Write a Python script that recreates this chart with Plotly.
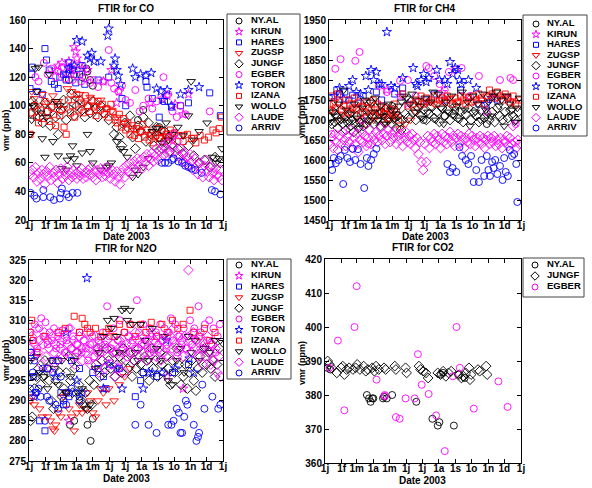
import plotly.graph_objects as go

W, H = 592, 488
FONT = "Liberation Sans"

# ---------------- axis ticks ----------------
MONTH_DAYS = [0, 31, 59, 90, 120, 151, 181, 212, 243, 273, 304, 334, 365]
MONTH_LABELS = ["1j", "1f", "1m", "1a", "1m", "1j", "1j", "1a", "1s", "1o", "1n", "1d", "1j"]

STATIONS = ["NY.AL", "KIRUN", "HARES", "ZUGSP", "JUNGF", "EGBER", "TORON", "IZANA", "WOLLO", "LAUDE", "ARRIV"]
CO2_STATIONS = ["NY.AL", "JUNGF", "EGBER"]

# ---------------- CO (ppb): (day of 2003, vmr) ----------------
CO_NYAL = [(75,118),(85,122),(100,120),(108,126),(110,124),(115,118),(120,114),(205,90),(215,97),(245,85),(250,83)]
CO_KIRUN = [(50,125),(55,128),(62,130),(75,131),(78,127),(80,125),(85,141),(88,138),(90,133),(95,129),(100,126),
            (110,125),(140,117),(155,125),(165,102),(170,110),(228,102),(250,105),(260,107),(275,101),(290,94),(300,108)]
CO_HARES = [(2,112),(5,122),(6,127),(15,110),(25,108),(30,140),(33,132),(38,125),(42,117),(48,115),(55,112),(58,120),
            (65,122),(70,118),(75,130),(82,125),(88,116),(95,122),(100,128),(105,115),(130,118),(150,120),(175,105),
            (182,100),(220,117),(222,113),(232,105),(245,92),(255,103),(268,99),(285,100),(300,102),(340,109),(360,93)]
CO_ZUGSP = [(3,80),(5,110),(10,105),(18,100),(25,108),(35,102),(45,107),(55,103),(65,98),(72,112),(80,110),(88,105),
            (95,108),(105,102),(115,106),(125,100),(135,104),(145,98),(155,96),(165,92),(180,88),(195,84),(210,82),
            (225,80),(240,78),(255,79),(270,81),(290,80),(310,78)]
CO_JUNGF = [(3,95),(6,103),(10,100),(14,97),(20,92),(26,88),(30,102),(35,96),(40,86),(45,100),(50,92),(55,80),(60,97),
            (65,104),(70,90),(75,98),(80,108),(85,93),(90,100),(95,104),(100,97),(105,92),(110,99),(115,95),(120,103),
            (125,98),(130,92),(135,100),(140,95),(150,90),(160,80),(165,85),(170,78),(175,72),(180,88),(185,85),(190,93),
            (195,78),(200,70),(205,86),(210,82),(215,92),(220,75),(225,88),(230,80),(235,72),(240,85),(245,78),(250,70),
            (255,82),(260,76),(265,68),(270,73),(280,70),(290,66),(300,72),(310,65),(320,60),(330,62),(340,57),(350,64),(360,60)]
CO_EGBER = [(12,120),(18,117),(28,130),(35,122),(42,126),(50,120),(55,124),(62,127),(68,119),(75,123),(82,118),(90,121),
            (98,117),(106,119),(115,116),(122,118),(130,113),(140,117),(150,139),(155,116),(160,112),(168,110),(175,114),
            (182,104),(190,102),(200,111),(208,96),(215,100),(225,105),(232,98),(240,103),(253,120),(262,108),(270,96),
            (278,92),(285,100),(295,94),(340,96)]
CO_TORON = [(70,122),(75,126),(85,128),(90,146),(100,145),(110,135),(115,133),(118,137),(122,131),(135,131),(148,149),
            (150,154),(160,128),(162,133),(165,125),(168,121),(172,115),(195,126),(200,120),(210,122),(220,121),(230,123),
            (240,112),(248,110),(252,104),(260,111),(268,100),(285,108),(300,111),(320,113)]
CO_IZANA = [(2,80),(6,95),(10,100),(14,92),(18,88),(22,97),(26,91),(30,103),(34,96),(38,89),(42,99),(46,94),(50,86),
            (54,101),(58,93),(62,97),(66,85),(70,80),(74,104),(78,95),(82,100),(86,92),(90,108),(94,97),(98,102),(102,95),
            (106,107),(110,100),(114,96),(118,104),(122,99),(126,93),(130,103),(134,97),(138,101),(142,94),(146,98),
            (150,92),(154,101),(158,96),(162,90),(166,88),(170,94),(174,85),(178,91),(182,83),(186,88),(190,80),(194,86),
            (198,79),(202,84),(206,77),(210,82),(214,87),(218,78),(222,83),(226,76),(230,81),(234,74),(238,79),(242,84),
            (246,77),(250,82),(254,75),(258,80),(262,78),(266,83),(270,76),(274,81),(282,79),(290,75),(298,80),(306,77),
            (314,74),(322,79),(330,76),(338,78),(346,83),(352,81),(358,84),(362,92)]
CO_WOLLO = [(2,80),(5,90),(8,100),(12,126),(15,110),(18,127),(22,95),(25,77),(30,64),(33,92),(38,122),(45,75),(50,103),
            (55,65),(58,100),(62,56),(70,55),(72,62),(78,65),(82,72),(85,63),(90,58),(100,67),(110,80),(115,68),(120,60),
            (135,55),(145,57),(150,58),(155,60),(165,75),(172,70),(178,68),(185,64),(195,50),(200,55),(205,52),(215,57),
            (225,63),(232,82),(240,84),(250,74),(258,88),(262,76),(270,80),(280,85),(290,79),(300,93),(305,117),(310,76),
            (320,82),(335,88),(345,64),(352,60),(358,63),(363,70)]
CO_LAUDE = [(2,52),(6,55),(9,50),(12,57),(15,47),(18,53),(21,49),(24,55),(27,52),(30,45),(33,54),(36,51),(39,57),(42,48),
            (45,53),(48,50),(51,55),(54,46),(57,52),(60,56),(63,49),(66,54),(69,51),(72,57),(75,48),(78,53),(81,50),(84,55),
            (87,52),(90,49),(93,54),(96,51),(99,56),(102,49),(105,53),(108,50),(111,55),(114,52),(117,57),(120,50),(123,54),
            (126,48),(129,55),(132,52),(135,56),(138,50),(141,54),(144,51),(147,57),(150,53),(153,49),(156,55),(159,52),
            (162,47),(165,54),(168,50),(171,45),(174,53),(177,56),(180,50),(183,58),(186,54),(189,60),(192,52),(195,57),
            (198,61),(201,55),(204,63),(207,58),(210,62),(213,56),(216,64),(219,60),(222,66),(225,58),(228,63),(231,67),
            (234,61),(237,65),(240,70),(243,62),(246,68),(249,64),(252,72),(255,66),(258,70),(261,74),(264,67),(267,78),
            (270,71),(273,80),(276,68),(279,75),(282,65),(285,70),(288,62),(291,67),(294,60),(297,64),(300,58),(303,66),
            (306,61),(309,55),(312,63),(315,58),(318,52),(321,60),(324,56),(327,50),(330,58),(333,62),(336,54),(339,50),
            (342,57),(345,53),(348,48),(351,56),(354,52),(357,50),(360,55),(363,48)]
CO_ARRIV = [(3,39),(10,37),(14,35),(27,36),(27,41),(40,36),(47,34),(58,35),(60,39),(62,42),(71,38),(75,36),(82,39),(91,39),
            (250,60),(256,60),(262,60),(269,62),(272,63),(281,61),(288,60),(294,58),(300,57),(306,56),(313,55),(325,53),
            (344,41),(350,40),(360,38)]

# ---------------- CH4 (ppb) ----------------
CH4_NYAL = [(100,1720),(120,1735),(180,1700),(220,1710),(240,1725),(300,1690)]
CH4_KIRUN = [(110,1775),(135,1760),(150,1740),(215,1770)]
CH4_HARES = [(5,1755),(15,1775),(20,1765),(30,1770),(38,1750),(45,1762),(55,1742),(65,1760),(90,1770),(100,1750),
             (125,1765),(140,1780),(185,1750),(200,1765),(220,1750),(250,1775),(285,1740),(320,1750),(340,1755)]
CH4_ZUGSP = [(3,1725),(10,1745),(18,1700),(25,1715),(32,1705),(40,1720),(48,1730),(55,1700),(62,1735),(70,1690),(78,1710),
             (85,1700),(95,1720),(105,1690),(115,1700),(125,1710),(135,1680),(145,1690),(155,1700),(165,1720),(175,1735),
             (185,1745),(200,1740),(215,1750),(230,1755),(245,1745),(260,1760),(275,1745),(290,1750),(305,1760),(320,1755),
             (335,1760),(350,1745)]
CH4_JUNGF = [(2,1705),(5,1690),(8,1720),(11,1695),(14,1710),(17,1680),(20,1700),(23,1725),(26,1690),(29,1705),(32,1675),
             (35,1695),(38,1715),(41,1685),(44,1700),(47,1670),(50,1690),(53,1710),(56,1680),(59,1695),(62,1720),(65,1685),
             (68,1705),(71,1690),(74,1725),(77,1700),(80,1745),(83,1710),(86,1690),(89,1730),(92,1700),(95,1715),(98,1685),
             (101,1720),(104,1695),(107,1710),(110,1730),(113,1700),(116,1715),(119,1690),(122,1725),(125,1705),(128,1680),
             (131,1710),(134,1695),(137,1675),(140,1700),(145,1715),(150,1705),(155,1745),(160,1720),(165,1700),(170,1730),
             (175,1710),(180,1725),(185,1700),(190,1715),(195,1735),(200,1705),(205,1720),(210,1695),(215,1730),(220,1710),
             (225,1725),(230,1700),(235,1715),(240,1735),(245,1705),(250,1720),(255,1695),(260,1715),(265,1730),(270,1700),
             (275,1720),(280,1710),(285,1695),(290,1725),(295,1705),(300,1715),(305,1700),(310,1720),(315,1695),(320,1730),
             (325,1710),(330,1700),(335,1720),(340,1705),(345,1725),(350,1710),(355,1700),(360,1720)]
CH4_EGBER = [(5,1665),(12,1828),(22,1852),(50,1848),(58,1870),(63,1700),(75,1640),(95,1785),(110,1770),(135,1798),
             (150,1800),(165,1760),(185,1835),(190,1830),(200,1810),(210,1790),(220,1775),(228,1820),(240,1825),(252,1830),
             (268,1760),(285,1810),(300,1720),(325,1800),(345,1805),(350,1800),(355,1690)]
CH4_TORON = [(10,1760),(20,1780),(28,1752),(38,1785),(45,1800),(52,1770),(60,1765),(70,1810),(75,1775),(80,1825),(85,1800),
             (90,1820),(95,1790),(100,1790),(110,1920),(118,1785),(125,1780),(140,1805),(160,1830),(165,1790),(168,1785),
             (175,1800),(180,1815),(185,1795),(190,1805),(205,1825),(210,1800),(220,1800),(225,1790),(230,1845),(235,1815),
             (240,1830),(245,1825),(248,1800),(252,1790),(265,1800),(280,1780),(300,1740),(310,1755)]
CH4_IZANA = [(2,1725),(5,1760),(8,1740),(12,1730),(16,1765),(20,1745),(24,1725),(28,1735),(32,1750),(36,1720),(40,1740),
             (44,1730),(48,1755),(52,1725),(56,1745),(60,1715),(64,1735),(68,1720),(72,1745),(76,1730),(80,1725),(84,1750),
             (88,1710),(92,1740),(96,1720),(100,1735),(104,1715),(108,1730),(112,1705),(116,1725),(120,1715),(124,1740),
             (128,1720),(132,1700),(140,1765),(150,1735),(160,1740),(165,1750),(170,1745),(175,1760),(180,1740),(185,1755),
             (190,1745),(195,1750),(200,1760),(205,1740),(210,1750),(215,1755),(220,1745),(225,1760),(230,1750),(235,1740),
             (240,1755),(245,1745),(250,1760),(255,1750),(260,1740),(265,1755),(270,1745),(275,1760),(280,1750),(285,1765),
             (290,1755),(295,1740),(300,1760),(305,1775),(310,1765),(315,1755),(320,1770),(325,1760),(330,1750),(335,1765),
             (340,1755),(345,1745),(350,1760),(355,1740),(360,1750)]
CH4_WOLLO = [(3,1695),(8,1720),(13,1710),(18,1740),(23,1700),(28,1775),(33,1725),(38,1695),(43,1715),(48,1740),(53,1705),
             (58,1680),(63,1730),(68,1750),(73,1700),(78,1745),(83,1720),(88,1755),(93,1700),(98,1735),(103,1710),(108,1690),
             (113,1740),(118,1725),(123,1700),(128,1715),(133,1735),(138,1745),(143,1760),(148,1755),(153,1740),(158,1765),
             (163,1720),(168,1750),(173,1735),(178,1705),(183,1755),(188,1720),(193,1745),(198,1770),(203,1700),(208,1765),
             (213,1730),(218,1690),(223,1745),(228,1720),(233,1760),(238,1710),(243,1735),(248,1700),(253,1770),(258,1725),
             (263,1745),(268,1685),(273,1760),(278,1720),(283,1740),(288,1700),(293,1765),(298,1725),(303,1745),(308,1710),
             (313,1760),(318,1770),(323,1735),(328,1750),(333,1685),(338,1760),(343,1740),(348,1725),(353,1695),(358,1730),(362,1755)]
CH4_LAUDE = [(2,1640),(5,1655),(8,1630),(11,1665),(14,1645),(17,1625),(20,1660),(23,1640),(26,1670),(29,1650),(32,1635),
             (35,1660),(38,1645),(41,1675),(44,1630),(47,1655),(50,1640),(53,1665),(56,1620),(59,1650),(62,1670),(65,1645),
             (68,1660),(71,1635),(74,1655),(77,1675),(80,1640),(83,1660),(86,1650),(89,1670),(92,1645),(95,1660),(98,1680),
             (101,1650),(104,1665),(107,1640),(110,1660),(113,1675),(116,1645),(119,1665),(122,1655),(125,1670),(128,1640),
             (131,1660),(134,1650),(137,1665),(140,1635),(143,1655),(146,1670),(149,1645),(152,1660),(155,1640),(158,1665),
             (161,1650),(164,1630),(167,1655),(170,1615),(173,1645),(176,1595),(179,1575),(182,1640),(185,1595),(188,1660),
             (191,1630),(194,1655),(197,1645),(200,1665),(203,1640),(206,1660),(209,1650),(212,1630),(215,1665),(218,1645),
             (221,1660),(224,1640),(227,1655),(230,1670),(233,1645),(236,1660),(239,1635),(242,1655),(245,1665),(248,1640),
             (251,1660),(254,1650),(257,1630),(260,1655),(263,1645),(266,1665),(269,1640),(272,1660),(275,1650),(278,1635),
             (281,1655),(284,1645),(287,1660),(290,1640),(293,1655),(296,1630),(299,1650),(302,1660),(305,1640),(308,1655),
             (311,1645),(314,1660),(317,1635),(320,1650),(323,1640),(326,1655),(329,1630),(332,1650),(335,1645),(338,1660),
             (341,1635),(344,1655),(347,1640),(350,1685),(353,1645),(356,1630),(359,1650),(362,1640)]
CH4_ARRIV = [(3,1590),(6,1575),(9,1605),(13,1592),(18,1600),(22,1610),(27,1540),(30,1625),(35,1605),(40,1595),(45,1628),
             (50,1600),(55,1627),(60,1590),(67,1530),(72,1605),(75,1585),(80,1600),(85,1615),(90,1628),(225,1590),(230,1570),
             (235,1580),(242,1570),(248,1632),(253,1610),(260,1600),(265,1590),(270,1610),(275,1545),(280,1575),(285,1545),
             (290,1600),(295,1560),(300,1610),(303,1575),(306,1560),(310,1595),(313,1580),(316,1600),(320,1565),(325,1585),
             (330,1550),(333,1605),(336,1570),(340,1560),(344,1625),(348,1610),(352,1615),(356,1590),(358,1495)]

# ---------------- N2O (ppb) ----------------
N2O_NYAL = [(70,292),(77,284),(85,285),(95,291),(110,284),(116,280),(120,285.5)]
N2O_KIRUN = [(75,285),(260,296),(290,293)]
N2O_HARES = [(3,302),(8,296),(12,292),(20,285),(30,282.5),(35,298),(45,300),(55,300),(60,292),(65,289),(75,291),(80,300),
             (95,298),(120,297),(130,298),(140,296),(145,293),(170,298),(200,291),(210,295),(215,297),(240,296),(270,297),(300,299)]
N2O_ZUGSP = [(3,290),(6,291),(10,289),(20,288),(25,286),(35,286),(40,285),(45,283),(48,282.5),(50,284),(55,287),(60,286),
             (65,291),(70,292),(75,288),(80,286),(85,282.5),(90,287),(95,289),(100,287),(105,288),(110,292),(115,290),(120,287),
             (125,286),(130,290),(135,293),(140,292),(145,289),(150,293),(160,290),(170,294),(180,296),(190,298)]
N2O_JUNGF = [(3,285),(6,286),(10,293),(14,296),(18,298),(22,294),(26,296),(30,300),(34,298),(38,295),(42,290),(46,288),
             (50,295),(54,300),(58,297),(62,291),(66,293),(70,297),(74,301),(78,295),(82,292),(86,298),(90,302),(94,294),
             (98,290),(102,289),(106,292),(110,288),(114,295),(118,289),(122,294),(126,299),(130,303),(134,296),(138,300),
             (142,297),(146,303),(150,300),(154,298),(158,302),(162,296),(166,299),(170,301),(174,297),(178,303),(182,300),
             (186,298),(190,302),(194,296),(198,300),(202,298),(206,303),(210,299),(214,297),(218,301),(222,300),(226,295),
             (230,303),(234,298),(238,300),(242,296),(246,302),(250,299),(254,297),(258,301),(262,298),(266,294),(270,300),
             (274,297),(278,303),(282,299),(286,294),(290,296),(294,299),(298,293),(302,297),(306,300),(310,295),(314,292.5),
             (318,298),(322,301),(326,297),(330,303),(334,299),(338,302),(342,298),(346,300),(350,296),(354,299),(358,303)]
N2O_EGBER = [(3,307),(7,305),(11,309),(15,303),(19,308),(23,310.5),(27,306),(31,309.5),(35,304),(39,307),(43,305),(47,308),
             (51,303),(55,306),(59,304),(63,307.5),(67,302),(71,305),(75,308),(79,303),(83,306),(87,301),(91,304),(95,307),
             (99,302),(103,305),(107,303),(111,300),(115,304),(119,306),(123,301),(127,303),(131,305),(135,302),(139,307),
             (143,304),(147,313.5),(151,306),(155,303),(159,308),(163,302),(167,305),(171,310),(175,304),(179,307),(183,302),
             (187,306),(191,309),(195,305),(199,303),(203,315),(207,307),(211,304),(215,309),(219,305),(223,303),(227,308),
             (231,306),(235,302),(239,307),(243,304),(247,309),(251,305),(255,308),(259,303),(263,307),(267,310.5),(271,305),
             (275,309),(279,302),(283,306),(287,304),(291,308),(295,303),(299,306),(303,310),(307,304),(311,308),(315,305),
             (319,313.5),(323,307),(327,303),(331,309),(335,305),(339,310),(343,304),(347,308),(351,302),(355,306),(359,309)]
N2O_TORON = [(10,291),(50,296),(70,307),(90,295),(100,292),(109,320.5),(140,293),(150,299),(165,298),(175,293),(215,293),
             (225,297),(232,297),(250,297),(258,305),(275,298),(302,300.5),(310,297)]
N2O_IZANA = [(2,307),(5,310),(8,305),(15,302),(30,306),(55,307),(68,308),(85,311),(95,307),(100,310.5),(105,309),(110,308),
             (115,307),(125,308),(135,306),(145,307),(150,308),(160,306),(170,309),(180,307),(190,309),(200,306),(210,309),
             (220,307),(230,309.5),(240,306),(250,309),(260,307),(270,310),(280,308),(290,309),(303,312.5),(310,307),
             (320,306),(330,308),(340,305),(350,307)]
N2O_WOLLO = [(3,300),(8,296),(14,301),(20,297),(28,296),(35,293),(42,300),(48,298),(55,294),(62,300),(70,292),(78,296),
             (85,300),(92,292),(100,293),(108,288),(115,289),(125,298),(132,302),(140,306),(148,310),(155,308),(160,310.5),
             (165,306),(170,302),(175,312.5),(180,313),(185,310),(190,312.5),(195,309),(200,302),(205,300),(210,309),
             (218,305),(225,300),(232,308),(240,303),(248,300),(255,306),(262,295),(270,294),(278,300),(285,303),(292,297),
             (300,306),(305,302),(312,305),(320,300),(330,303),(340,302),(350,305),(360,305)]
N2O_LAUDE = [(2,303),(5,306),(8,301),(11,304),(14,308),(17,302),(20,305),(23,299),(26,304),(29,307),(32,301),(35,305),
             (38,303),(41,298),(44,306),(47,302),(50,304),(53,300),(56,307),(59,303),(62,305),(65,301),(68,306),(71,302),
             (74,304),(77,308),(80,303),(83,305),(86,299),(89,304),(92,302),(95,306),(98,303),(101,300),(104,305),(107,302),
             (110,307),(113,303),(116,299),(119,304),(122,301),(125,306),(128,302),(131,297),(134,304),(137,300),(140,303),
             (143,298),(146,305),(149,301),(152,303),(155,299),(158,304),(161,296),(164,302),(167,298),(170,305),(173,300),
             (176,303),(179,297),(182,304),(185,301),(188,306),(191,302),(194,304),(197,300),(200,307),(203,303),(206,305),
             (209,301),(212,306),(215,302),(218,304),(221,300),(224,305),(227,302),(230,307),(233,303),(236,305),(239,301),
             (242,306),(245,303),(248,300),(251,305),(254,302),(257,306),(260,304),(263,301),(266,306),(269,303),(272,308),
             (275,304),(278,301),(281,306),(284,303),(287,305),(290,301),(293,306),(296,303),(300,322.5),(303,305),(306,302),
             (309,307),(312,303),(315,305),(318,301),(321,306),(324,303),(327,299),(330,304),(333,301),(336,306),(339,302),
             (342,299),(345,304),(348,300),(351,303),(354,297),(357,301),(360,296)]
N2O_ARRIV = [(2,293),(4,302),(7,297),(10,300),(14,292),(18,293),(22,291),(26,298),(30,285),(34,291),(38,290),(45,297),
             (50,289),(55,288),(60,296),(65,290),(70,289),(75,292),(80,293),(88,292),(95,290),(200,284),(210,289),(225,284),
             (240,282),(262,284),(268,284),(272,285),(278,288),(282,287),(285,282),(288,282),(292,286),(295,290),(298,289),
             (310,284),(315,280),(318,281),(320,282),(326,294),(330,288),(345,291),(356,288),(360,289)]

# ---------------- CO2 (ppm) ----------------
CO2_NYAL = [(4,388),(10,387.5),(78,380),(82,379),(85,378),(88,379),(90,379),(108,379),(110,379.5),(115,379),(125,380),
            (170,378),(200,373),(210,371),(213,372),(216,386),(220,386.5),(240,371),(248,386),(260,385)]
CO2_JUNGF = [(5,390),(8,389),(12,388),(22,386.5),(30,388),(33,388.5),(36,386),(40,387.5),(45,388),(52,387.5),(57,388),
             (60,389),(65,387.5),(72,388.5),(76,387),(80,387.5),(88,388),(92,387),(95,388.5),(100,387.5),(110,388),
             (113,387.5),(130,388.5),(132,387.5),(150,388),(152,386.5),(175,388.5),(178,387.5),(183,387),(188,386.5),
             (192,385),(210,386.5),(215,386),(220,387),(225,385.5),(230,386.5),(235,387),(250,386),(254,385),(258,385.5),
             (262,386.5),(268,388),(270,384.5),(272,386),(285,387.5),(288,387),(300,388.5),(302,386)]
CO2_EGBER = [(8,388),(24,396),(36,375.5),(55,400),(59,412),(96,384.5),(111,380),(112,379.7),(132,373.5),(139,373),
             (150,379),(167,379),(173,392),(180,383),(193,380.3),(207,374),(223,363.5),(238,385.5),(245,400),(251,388),
             (277,376),(323,384),(340,376.5)]

CO_DATA = dict(zip(STATIONS, [CO_NYAL, CO_KIRUN, CO_HARES, CO_ZUGSP, CO_JUNGF, CO_EGBER, CO_TORON, CO_IZANA, CO_WOLLO, CO_LAUDE, CO_ARRIV]))
CH4_DATA = dict(zip(STATIONS, [CH4_NYAL, CH4_KIRUN, CH4_HARES, CH4_ZUGSP, CH4_JUNGF, CH4_EGBER, CH4_TORON, CH4_IZANA, CH4_WOLLO, CH4_LAUDE, CH4_ARRIV]))
N2O_DATA = dict(zip(STATIONS, [N2O_NYAL, N2O_KIRUN, N2O_HARES, N2O_ZUGSP, N2O_JUNGF, N2O_EGBER, N2O_TORON, N2O_IZANA, N2O_WOLLO, N2O_LAUDE, N2O_ARRIV]))
CO2_DATA = dict(zip(CO2_STATIONS, [CO2_NYAL, CO2_JUNGF, CO2_EGBER]))

# ---------------- styles ----------------
MAG, BLU, RED, BLK = "#FF00FF", "#0000FF", "#FF0000", "#000000"
STYLE = {
    "NY.AL": ("circle-open", BLK), "KIRUN": ("star-open", MAG), "HARES": ("square-open", BLU),
    "ZUGSP": ("triangle-down-open", RED), "JUNGF": ("diamond-open", BLK), "EGBER": ("circle-open", MAG),
    "TORON": ("star-open", BLU), "IZANA": ("square-open", RED), "WOLLO": ("triangle-down-open", BLK),
    "LAUDE": ("diamond-open", MAG), "ARRIV": ("circle-open", BLU),
}
SIZE = {"circle-open": 7, "star-open": 7, "square-open": 6, "triangle-down-open": 7.5, "diamond-open": 7.5}

# panel layout (pixels): plot box, y range, dtick, title, y label, legend box
PANELS = [
    dict(data=CO_DATA, names=STATIONS, box=(29, 223, 20, 220), yr=(20, 160), dt=20, title="FTIR for CO",
         ylab="vmr (ppb)", ylab_pos=(6, 130), leg=(227, 300, 14, 135, 21, 10.7, 239, 251)),
    dict(data=CH4_DATA, names=STATIONS, box=(329, 521, 20, 220), yr=(1450, 1950), dt=50, title="FTIR for CH4",
         ylab="vmr (ppb)", ylab_pos=(302, 117), leg=(523, 587, 15, 136, 24, 10.4, 536, 547)),
    dict(data=N2O_DATA, names=STATIONS, box=(29, 223, 260, 461), yr=(275, 325), dt=5, title="FTIR for N2O",
         ylab="vmr (ppb)", ylab_pos=(6, 360), leg=(227, 291, 259, 379, 265, 10.8, 239, 251)),
    dict(data=CO2_DATA, names=CO2_STATIONS, box=(325, 521, 259, 463), yr=(360, 420), dt=10, title="FTIR for CO2",
         ylab="vmr (ppm)", ylab_pos=(302, 363), leg=(523, 584, 258, 297, 265, 11, 535, 547)),
]

fig = go.Figure()
layout = dict(width=W, height=H, margin=dict(l=0, r=0, t=0, b=0), paper_bgcolor="white",
              plot_bgcolor="rgba(0,0,0,0)", showlegend=False, font=dict(family=FONT, color="black"))
annotations, shapes = [], []

def px(x):
    return x / W

def py(y):
    return 1 - y / H

for i, p in enumerate(PANELS):
    k = "" if i == 0 else str(i + 1)
    x0, x1, y0, y1 = p["box"]
    for name in p["names"]:
        pts = p["data"][name]
        sym, col = STYLE[name]
        fig.add_trace(go.Scatter(
            x=[a for a, b in pts], y=[b for a, b in pts], mode="markers", name=name,
            xaxis="x" + k, yaxis="y" + k, cliponaxis=True,
            marker=dict(symbol=sym, size=SIZE[sym], color=col, line=dict(color=col, width=0.9))))
    common = dict(showline=True, linecolor="black", linewidth=1, mirror="ticks", ticks="inside", ticklen=4,
                  tickcolor="black", showgrid=False, zeroline=False, automargin=False, fixedrange=True,
                  tickfont=dict(family=FONT, size=10, color="black", weight="bold"))
    layout["xaxis" + k] = dict(common, domain=[px(x0), px(x1)], range=[0, 365], tickmode="array",
                               tickvals=MONTH_DAYS, ticktext=MONTH_LABELS, anchor="y" + k,
                               ticklabelstandoff=-4)
    layout["yaxis" + k] = dict(common, domain=[py(y1), py(y0)], range=list(p["yr"]), tickmode="linear",
                               tick0=p["yr"][0], dtick=p["dt"], anchor="x" + k)
    cx = (x0 + x1) / 2
    annotations.append(dict(text=p["title"], x=px(cx), y=py(y0 - 12), xref="paper", yref="paper", showarrow=False,
                            xanchor="center", yanchor="middle", font=dict(family=FONT, size=10, weight="bold")))
    annotations.append(dict(text="Date 2003", x=px(cx), y=py(y1 + 17), xref="paper", yref="paper", showarrow=False,
                            xanchor="center", yanchor="middle", font=dict(family=FONT, size=10, weight="bold")))
    lx, ly = p["ylab_pos"]
    annotations.append(dict(text=p["ylab"], x=px(lx), y=py(ly), xref="paper", yref="paper", showarrow=False,
                            textangle=-90, xanchor="center", yanchor="middle",
                            font=dict(family=FONT, size=9, weight="bold")))
    # legend box
    bx0, bx1, by0, by1, first, step, mx, tx = p["leg"]
    shapes.append(dict(type="rect", xref="paper", yref="paper", x0=px(bx0), x1=px(bx1), y0=py(by1), y1=py(by0),
                       line=dict(color="#444444", width=1), fillcolor="white", layer="below"))
    names = p["names"]
    ys = [first + j * step for j in range(len(names))]
    for j, name in enumerate(names):
        sym, col = STYLE[name]
        fig.add_trace(go.Scatter(x=[mx], y=[ys[j]], mode="markers", xaxis="x9", yaxis="y9", hoverinfo="skip",
                                 marker=dict(symbol=sym, size=SIZE[sym] - 1, color=col, line=dict(color=col, width=1))))
    fig.add_trace(go.Scatter(x=[tx] * len(names), y=ys, mode="text", text=names, textposition="middle right",
                             xaxis="x9", yaxis="y9", hoverinfo="skip",
                             textfont=dict(family=FONT, size=9.5, color="black", weight="bold")))

# overlay axis in pixel units for the legend entries
layout["xaxis9"] = dict(domain=[0, 1], range=[0, W], visible=False, fixedrange=True, anchor="y9")
layout["yaxis9"] = dict(domain=[0, 1], range=[H, 0], visible=False, fixedrange=True, anchor="x9")
layout["annotations"] = annotations
layout["shapes"] = shapes
fig.update_layout(**layout)
fig.write_html("out.html")
